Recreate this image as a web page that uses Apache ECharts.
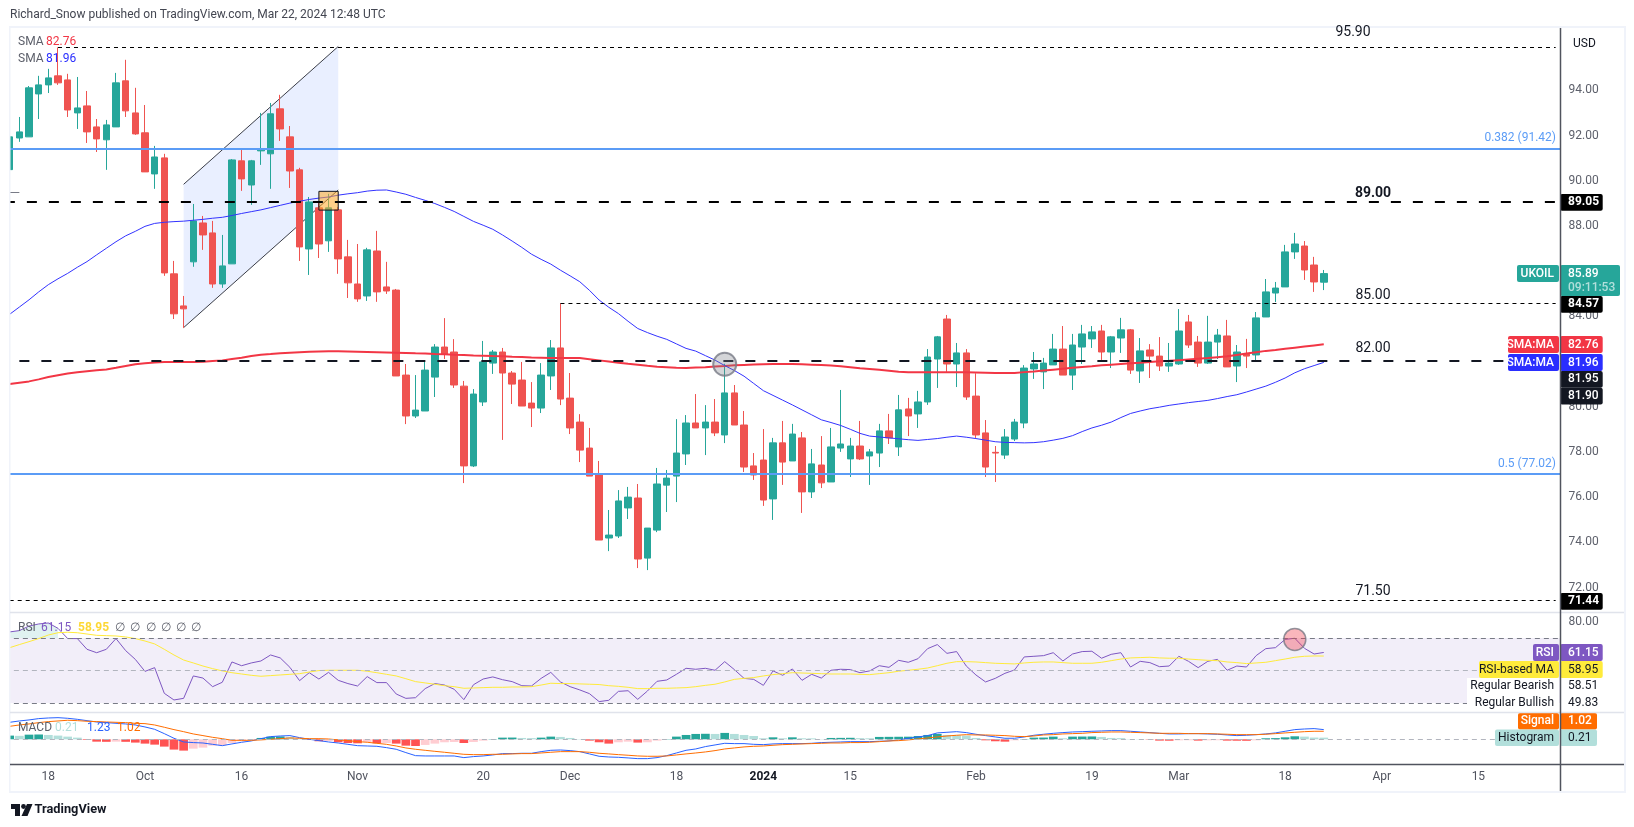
<!DOCTYPE html>
<html>
<head>
<meta charset="utf-8">
<title>UKOIL</title>
<script src="https://cdn.jsdelivr.net/npm/echarts@6/dist/echarts.min.js"></script>
<style>
html, body { margin: 0; padding: 0; background: #fff; }
#ch { width: 1634px; height: 827px; }
</style>
</head>
<body>
<div id="ch"></div>
<script>
// trading days, the last 24 are the empty space on the right of the chart
var categories = [
  'Sep 12','Sep 13','Sep 14','Sep 15','Sep 18','Sep 19','Sep 20','Sep 21','Sep 22','Sep 25','Sep 26','Sep 27','Sep 28','Sep 29',
  'Oct 2','Oct 3','Oct 4','Oct 5','Oct 6','Oct 9','Oct 10','Oct 11','Oct 12','Oct 13','Oct 16','Oct 17','Oct 18','Oct 19','Oct 20','Oct 23','Oct 24','Oct 25','Oct 26','Oct 27','Oct 30','Oct 31',
  'Nov 1','Nov 2','Nov 3','Nov 6','Nov 7','Nov 8','Nov 9','Nov 10','Nov 13','Nov 14','Nov 15','Nov 16','Nov 17','Nov 20','Nov 21','Nov 22','Nov 23','Nov 24','Nov 27','Nov 28','Nov 29','Nov 30',
  'Dec 1','Dec 4','Dec 5','Dec 6','Dec 7','Dec 8','Dec 11','Dec 12','Dec 13','Dec 14','Dec 15','Dec 18','Dec 19','Dec 20','Dec 21','Dec 22','Dec 26','Dec 27','Dec 28','Dec 29',
  'Jan 2','Jan 3','Jan 4','Jan 5','Jan 8','Jan 9','Jan 10','Jan 11','Jan 12','Jan 15','Jan 16','Jan 17','Jan 18','Jan 19','Jan 22','Jan 23','Jan 24','Jan 25','Jan 26','Jan 29','Jan 30','Jan 31',
  'Feb 1','Feb 2','Feb 5','Feb 6','Feb 7','Feb 8','Feb 9','Feb 12','Feb 13','Feb 14','Feb 15','Feb 16','Feb 19','Feb 20','Feb 21','Feb 22','Feb 23','Feb 26','Feb 27','Feb 28','Feb 29',
  'Mar 1','Mar 4','Mar 5','Mar 6','Mar 7','Mar 8','Mar 11','Mar 12','Mar 13','Mar 14','Mar 15','Mar 18','Mar 19','Mar 20','Mar 21','Mar 22',
  'Mar 25','Mar 26','Mar 27','Mar 28','Mar 29','Apr 1','Apr 2','Apr 3','Apr 4','Apr 5','Apr 8','Apr 9','Apr 10','Apr 11','Apr 12','Apr 15','Apr 16','Apr 17','Apr 18','Apr 19','Apr 22','Apr 23','Apr 24','Apr 25'
];
var timeTickDates = ['Sep 18','Oct 2','Oct 16','Nov 1','Nov 20','Dec 1','Dec 18','Jan 2','Jan 15','Feb 1','Feb 19','Mar 1','Mar 18','Apr 1','Apr 15'];
var timeTickLabels = ['18','Oct','16','Nov','20','Dec','18','2024','15','Feb','19','Mar','18','Apr','15'];
var priceTicks = [72,74,76,78,80,82,84,86,88,90,92,94];

var opens = [90.49,91.89,91.94,93.84,94.24,94.64,94.46,93.00,93.31,92.38,91.81,92.38,94.42,93.00,92.12,90.30,91.01,85.88,84.46,86.41,
  88.13,87.69,85.43,86.32,90.88,89.81,91.32,91.19,93.18,91.94,90.48,86.98,88.80,87.34,88.71,86.63,85.43,84.90,86.89,85.30,
  85.16,81.40,79.59,79.81,81.31,82.64,82.42,80.91,77.38,80.21,81.93,82.42,81.49,81.18,80.16,79.94,81.36,82.60,80.38,79.32,
  78.17,76.98,74.19,74.28,75.52,75.96,73.30,74.54,76.53,76.93,77.91,79.28,79.06,79.32,78.75,80.61,79.19,77.38,77.64,75.92,
  78.40,77.60,78.62,76.23,77.42,76.67,78.17,77.69,78.26,77.82,77.95,78.93,78.22,79.90,79.68,80.21,82.11,83.88,81.89,82.38,
  80.47,78.84,77.98,77.86,78.57,79.28,81.67,81.54,81.85,82.55,81.40,82.64,83.00,83.35,82.42,83.04,83.40,81.58,82.51,82.24,
  81.80,81.89,83.75,82.86,81.93,82.86,83.13,81.80,82.33,82.29,83.97,85.03,85.30,86.85,87.11,86.27,85.51];
var closes = [91.94,92.16,94.11,94.24,94.55,94.33,93.13,93.22,92.16,91.85,92.47,94.33,93.09,92.07,90.39,91.05,85.92,84.11,84.33,88.22,
  87.60,85.43,86.23,90.92,90.08,90.88,91.36,92.96,92.29,90.43,87.07,89.06,87.20,88.80,86.54,85.48,84.77,86.94,85.08,85.12,
  81.36,79.59,79.85,81.62,82.64,82.33,80.96,77.38,80.56,81.98,82.42,81.49,81.00,80.03,79.94,81.40,82.60,80.34,79.06,78.08,
  76.93,74.10,74.32,75.83,76.00,73.26,74.63,76.58,76.84,77.95,79.28,79.06,79.32,78.84,80.61,79.19,77.33,76.98,75.87,78.40,
  77.55,78.79,76.23,77.47,76.63,78.22,78.35,78.26,77.69,78.00,78.93,78.62,79.86,79.59,80.21,82.20,83.09,81.89,82.38,80.43,
  78.75,77.33,77.95,78.66,79.32,81.71,81.89,81.93,82.55,81.40,82.73,83.22,83.31,82.42,83.09,83.40,81.62,82.47,82.24,81.80,
  81.93,83.35,82.73,81.93,82.86,83.17,81.76,82.42,82.24,83.93,85.08,85.25,86.85,87.20,86.05,85.52,85.89];
var lows = [90.49,91.72,91.94,92.73,93.88,94.24,92.82,92.29,91.67,91.27,90.48,92.38,92.82,92.03,90.39,89.64,85.79,83.88,83.49,86.19,
  86.94,85.26,85.26,86.32,89.55,88.93,90.70,89.64,91.76,89.68,86.45,85.83,86.58,86.85,85.88,84.81,84.64,84.68,84.64,84.99,
  81.36,79.23,79.50,79.81,80.43,82.11,80.83,76.62,77.33,80.03,81.45,78.53,80.12,80.03,79.10,79.72,80.74,80.07,78.79,77.55,
  76.93,74.10,73.61,74.19,75.03,72.86,72.77,74.45,75.34,75.78,77.42,79.06,77.86,78.70,78.39,79.19,77.11,76.76,75.61,74.99,
  76.54,77.60,75.30,75.96,76.40,76.67,78.00,76.89,77.64,76.54,77.33,78.35,77.82,78.70,79.06,80.08,80.83,81.54,80.87,80.30,
  78.62,76.89,76.67,77.69,78.48,79.05,81.23,80.78,81.85,81.40,80.74,81.89,82.60,82.07,81.71,82.38,81.45,81.05,81.27,81.58,
  81.54,81.85,82.60,81.76,81.89,82.11,81.76,81.09,81.71,81.98,83.97,84.63,85.30,86.54,85.61,85.08,85.16];
var highs = [92.40,92.82,94.19,94.64,94.95,95.90,94.73,94.59,93.97,92.73,92.69,94.77,95.35,94.11,93.35,91.54,91.19,86.45,84.90,88.97,
  88.44,88.22,87.60,90.96,91.36,90.92,93.00,93.44,93.80,92.42,90.57,89.28,89.06,89.42,88.84,87.38,87.20,87.03,87.78,86.41,
  85.21,81.89,81.40,82.02,82.77,83.92,82.99,81.14,80.78,82.91,82.51,82.60,81.58,81.98,81.09,81.93,82.95,84.57,81.49,79.67,
  79.06,77.60,75.43,76.31,76.45,76.58,74.63,77.29,77.20,79.45,79.63,80.56,80.07,80.34,81.90,80.96,79.81,77.95,79.01,78.62,
  79.37,79.24,78.88,78.13,78.70,79.06,80.74,78.62,79.37,78.13,79.24,79.68,80.52,80.39,80.70,82.55,83.13,84.06,82.82,82.55,
  81.48,79.41,78.26,79.01,79.46,81.84,82.42,82.16,83.22,83.57,83.22,83.62,83.57,83.62,83.13,83.93,83.44,83.04,82.77,83.08,
  82.82,84.32,84.06,83.13,84.02,83.44,83.84,82.73,83.00,84.19,85.65,85.52,87.16,87.69,87.33,86.63,86.05];

var sma50 = [84.09,84.41,84.73,85.08,85.40,85.66,85.90,86.17,86.42,86.72,87.01,87.30,87.56,87.76,87.98,88.11,88.16,88.19,88.21,88.25,
  88.29,88.34,88.38,88.46,88.55,88.63,88.71,88.81,88.91,89.01,89.09,89.17,89.23,89.28,89.36,89.42,89.47,89.54,89.58,89.59,
  89.50,89.40,89.26,89.13,88.99,88.82,88.64,88.42,88.20,88.03,87.85,87.60,87.33,87.05,86.75,86.52,86.31,86.04,85.79,85.53,
  85.15,84.72,84.40,84.12,83.78,83.46,83.28,83.12,82.98,82.78,82.58,82.46,82.26,82.06,81.82,81.60,81.35,81.03,80.71,80.50,
  80.29,80.08,79.86,79.64,79.42,79.30,79.17,79.00,78.82,78.70,78.66,78.62,78.58,78.54,78.51,78.55,78.59,78.65,78.70,78.65,
  78.59,78.52,78.45,78.42,78.41,78.40,78.41,78.45,78.52,78.60,78.72,78.90,79.06,79.18,79.32,79.52,79.70,79.81,79.91,79.98,
  80.06,80.12,80.18,80.23,80.28,80.36,80.45,80.53,80.65,80.78,80.91,81.08,81.27,81.50,81.68,81.82,81.96];
var sma200 = [81.00,81.06,81.12,81.21,81.31,81.39,81.47,81.52,81.57,81.61,81.65,81.72,81.80,81.88,81.92,81.96,81.98,81.98,81.98,81.98,
  81.99,82.02,82.05,82.11,82.17,82.24,82.30,82.33,82.37,82.39,82.41,82.43,82.44,82.45,82.45,82.44,82.43,82.42,82.41,82.40,
  82.39,82.38,82.36,82.35,82.33,82.32,82.30,82.29,82.27,82.26,82.24,82.23,82.21,82.20,82.18,82.17,82.16,82.15,82.15,82.15,
  82.10,82.05,82.00,81.95,81.90,81.86,81.81,81.77,81.75,81.72,81.71,81.73,81.75,81.78,81.80,81.83,81.85,81.87,81.88,81.89,
  81.89,81.89,81.88,81.86,81.84,81.82,81.79,81.75,81.70,81.67,81.63,81.59,81.55,81.53,81.53,81.52,81.52,81.52,81.52,81.52,
  81.51,81.50,81.49,81.49,81.49,81.53,81.56,81.60,81.64,81.68,81.72,81.76,81.79,81.83,81.86,81.89,81.92,81.95,81.98,82.01,
  82.03,82.06,82.09,82.12,82.15,82.19,82.23,82.29,82.35,82.41,82.47,82.51,82.56,82.61,82.66,82.71,82.76];

var rsiValues = [73.8,74.6,77.4,78.7,79.3,76.0,69.7,69.7,63.1,61.0,63.1,69.7,62.3,56.9,49.5,51.8,36.0,31.9,32.9,46.7,
  45.4,40.1,42.8,55.3,53.0,54.7,55.9,59.6,57.8,52.0,43.8,48.7,44.8,48.9,44.0,42.0,40.5,46.3,42.6,42.6,
  35.6,32.9,33.3,38.9,42.0,41.1,38.5,32.1,41.3,44.8,46.1,44.4,43.2,40.7,40.5,45.2,48.9,43.0,40.1,38.1,
  35.8,30.9,31.7,37.2,37.6,32.3,37.4,43.4,44.2,47.7,51.4,50.8,51.4,50.2,55.5,50.6,45.2,44.6,40.9,49.8,
  47.1,51.0,44.0,47.7,45.4,50.2,50.8,50.6,48.7,49.8,53.0,52.0,56.3,55.1,57.3,63.5,66.0,60.6,61.7,52.8,
  47.3,43.0,45.2,48.3,50.4,58.4,58.8,59.2,61.0,55.9,60.2,61.7,61.9,57.6,60.0,61.0,52.2,55.7,54.9,52.4,
  52.8,58.8,55.7,51.8,55.7,56.9,50.2,52.8,52.2,59.2,63.5,64.1,69.2,69.9,63.7,60.2,61.15];
var rsiMa = [64.1,66.0,67.8,69.7,71.9,73.3,73.6,73.3,72.5,71.7,71.5,71.3,70.7,69.7,68.2,66.4,63.1,59.6,56.5,54.7,
  52.8,51.2,49.8,48.7,47.9,47.1,46.5,46.9,47.3,47.7,48.1,49.1,50.0,50.2,50.2,50.2,50.2,49.6,48.7,47.7,
  46.7,45.0,43.2,42.4,41.6,40.7,40.1,39.1,39.3,39.5,39.7,39.7,39.9,39.9,40.1,41.1,42.2,42.0,42.0,41.8,
  41.6,41.4,40.7,40.3,39.7,38.9,38.9,39.1,39.1,39.3,39.5,40.1,40.9,41.6,43.0,44.6,45.2,45.7,46.7,47.5,
  48.1,48.7,48.5,48.3,48.1,47.9,47.9,47.9,47.7,47.5,48.1,48.7,49.6,50.2,50.8,51.6,53.0,54.5,55.5,55.5,
  55.3,54.9,54.5,54.3,54.1,54.7,55.1,55.3,55.3,54.9,54.5,54.5,54.5,55.1,56.1,57.1,57.8,58.0,58.2,57.8,
  57.6,57.6,57.1,56.7,56.3,56.1,55.3,54.9,54.3,54.7,55.1,56.1,57.1,58.2,58.8,59.0,58.95];

var macdValues = [2.16,2.33,2.46,2.63,2.71,2.75,2.67,2.54,2.37,2.20,2.12,2.03,1.95,1.82,1.57,1.27,.72,.13,-.34,-.42,
  -.47,-.64,-.81,-.59,-.38,-.21,.08,.34,.42,.47,.21,0,-.17,-.34,-.47,-.64,-.81,-.85,-.89,-1.06,
  -1.27,-1.69,-2.08,-2.12,-2.12,-2.12,-2.12,-2.33,-2.20,-2.12,-1.99,-1.82,-1.82,-1.78,-1.78,-1.57,-1.40,-1.36,-1.44,-1.57,
  -1.86,-2.16,-2.25,-2.29,-2.37,-2.46,-2.46,-2.33,-2.08,-1.74,-1.40,-1.23,-.93,-.72,-.51,-.55,-.55,-.64,-.68,-.59,
  -.55,-.55,-.55,-.51,-.42,-.38,-.34,-.30,-.30,-.30,-.25,-.21,-.08,.13,.30,.47,.81,.89,.97,.85,
  .64,.47,.30,.13,.13,.30,.51,.64,.76,.85,.93,.97,1.02,1.06,1.10,1.10,1.02,.93,.85,.76,
  .68,.68,.72,.72,.68,.64,.55,.47,.51,.59,.68,.81,1.02,1.23,1.31,1.36,1.23];
var signalValues = [1.65,1.82,1.95,2.12,2.25,2.33,2.42,2.37,2.29,2.25,2.20,2.16,2.12,2.03,1.99,1.82,1.53,1.23,.97,.68,
  .47,.25,.08,-.13,-.13,-.13,-.08,0,.08,.17,.13,.08,.08,.04,-.08,-.17,-.30,-.38,-.51,-.64,
  -.85,-1.10,-1.27,-1.40,-1.53,-1.65,-1.78,-1.91,-1.95,-1.95,-1.91,-1.91,-1.86,-1.82,-1.82,-1.74,-1.65,-1.57,-1.57,-1.57,
  -1.65,-1.78,-1.86,-1.95,-2.03,-2.12,-2.16,-2.16,-2.12,-1.99,-1.86,-1.74,-1.61,-1.44,-1.23,-1.10,-.97,-.89,-.85,-.76,
  -.68,-.64,-.59,-.55,-.51,-.47,-.47,-.42,-.42,-.38,-.30,-.21,-.17,-.08,.04,.17,.30,.42,.51,.59,
  .55,.55,.51,.47,.38,.34,.42,.55,.59,.68,.72,.76,.85,.89,.93,.93,.89,.85,.81,.76,
  .76,.76,.72,.72,.72,.68,.64,.59,.59,.59,.64,.72,.81,.89,.97,1.02,1.02];
var histValues = [.47,.44,.59,.61,.55,.47,.34,.21,-.08,-.30,-.32,-.30,-.32,-.42,-.55,-.68,-.93,-1.31,-1.44,-1.19,
  -1.06,-.81,-.76,-.47,-.25,-.08,.17,.34,.36,.30,.08,-.08,-.25,-.21,-.38,-.47,-.51,-.34,-.51,-.47,
  -.55,-.81,-.85,-.72,-.55,-.38,-.34,-.47,-.34,-.17,.04,.21,.22,.17,.15,.21,.34,.30,.17,.04,
  -.17,-.38,-.55,-.38,-.30,-.42,-.38,-.17,.04,.34,.55,.68,.70,.68,.81,.68,.55,.42,.13,.25,
  .13,.25,.13,.12,.04,.17,.18,.19,.15,.13,.30,.31,.32,.33,.42,.55,.68,.55,.51,.47,
  .17,-.13,-.25,-.30,-.13,.04,.21,.22,.34,.13,.34,.35,.36,.30,.17,.15,.04,.03,-.04,-.17,
  -.18,-.13,-.12,-.17,-.13,-.12,-.17,-.18,-.19,-.13,.13,.15,.25,.38,.34,.22,.21];

// horizontal drawings
var thinLevels = [[5,95.90],[57,84.57],[0,71.44]];
var blueLevels = [91.42,77.02];
var resistanceLevel = 89.05;
var supportLevel = 82.03;
var stubLevel = 89.49;
var channelPoints = [[18,89.84,83.50,34,95.94,89.59]];
var orderBox = [[32,89.53,34,88.70]];
var greyCircle = [[74,81.88]];
var pinkCircle = [[133,69.2]];

var FONT = 'Roboto, "Noto Sans", sans-serif';
var chart = echarts.init(document.getElementById('ch'));

var tickNames = {};
timeTickDates.forEach(function (d, i) { tickNames[d] = timeTickLabels[i]; });

var candleData = opens.map(function (o, i) { return [o, closes[i], lows[i], highs[i]]; });
var histData = histValues.map(function (v, i) {
    var prev = i ? histValues[i - 1] : 0, color;
    if (v >= 0) color = v >= prev ? '#26a69a' : '#b2dfdb';
    else color = v <= prev ? '#ff5252' : '#ffcdd2';
    return {value: v, itemStyle: {color: color}};
});
var rsiOver = rsiValues.map(function (v) { return v >= 70 ? v : null; });

// graphic helpers for the chrome around the panes
function rect(x, y, w, h, fill, r) {
    return {type: 'rect', z: 100, silent: true, shape: {x: x, y: y, width: w, height: h, r: r || 0}, style: {fill: fill}};
}
function line(x1, y1, x2, y2, color, w) {
    return {type: 'line', z: 101, silent: true, shape: {x1: x1, y1: y1, x2: x2, y2: y2}, style: {stroke: color, lineWidth: w || 1}};
}
function text(x, y, str, color, font, align) {
    return {type: 'text', z: 102, silent: true, x: x, y: y,
        style: {text: str, fill: color, font: font || ('12px ' + FONT), textAlign: align || 'left', textVerticalAlign: 'middle'}};
}
var BOLD = 'bold 12px ' + FONT;
var MEDIUM = '500 12px ' + FONT;
var PLAIN = '12px ' + FONT;
function valueTag(y, h, w, bg, fg, str, font) {
    return [rect(1560, y, w, h, bg, 2), text(1568, y + h / 2, str, fg, font || MEDIUM)];
}
function nameTag(x, y, h, bg, fg, str, font) {
    return [rect(x, y, 1559 - x, h, bg, 2), text(1554, y + h / 2, str, fg, font || MEDIUM, 'right')];
}

var graphics = [
    rect(0, 27, 9, 766, '#fff'),
    rect(9, 26, 1.5, 767, '#f0f3fa'),
    rect(9, 26, 1616, 2, '#f0f3fa'),
    rect(1624, 26, 2, 767, '#f0f3fa'),
    rect(9, 791, 1617, 2, '#f0f3fa'),
    line(10, 612.5, 1624, 612.5, '#e0e3eb', 1.5),
    line(10, 712.5, 1624, 712.5, '#e0e3eb', 1.5),
    line(10, 764.5, 1624, 764.5, '#50535e', 1.5),
    line(1560.5, 28, 1560.5, 791, '#50535e', 1.5),
    text(10, 15, 'Richard_Snow published on TradingView.com, Mar 22, 2024 12:48 UTC', '#434651', PLAIN),
    text(1573, 44, 'USD', '#131722', PLAIN),
    // legends
    text(18, 41.5, 'SMA', '#5d606b'), text(46, 41.5, '82.76', '#f23645'),
    text(18, 59, 'SMA', '#5d606b'), text(46, 59, '81.96', '#2a2eff'),
    text(18, 627.5, 'RSI', '#5d606b'), text(41, 627.5, '61.15', '#7e57c2'), text(78, 627.5, '58.95', '#fdd835', BOLD),
    text(115, 627.5, '∅', '#5d606b'), text(130, 627.5, '∅', '#5d606b'), text(146, 627.5, '∅', '#5d606b'),
    text(161, 627.5, '∅', '#5d606b'), text(176, 627.5, '∅', '#5d606b'), text(191, 627.5, '∅', '#5d606b'),
    text(18, 727.5, 'MACD', '#5d606b'), text(55, 727.5, '0.21', '#b2dfdb'), text(87, 727.5, '1.23', '#2962ff'), text(117, 727.5, '1.02', '#ff6d00'),
    // drawing labels
    text(1353, 32.5, '95.90', '#131722', '14px ' + FONT, 'center'),
    text(1373, 193, '89.00', '#131722', 'bold 14px ' + FONT, 'center'),
    text(1373, 295, '85.00', '#131722', '14px ' + FONT, 'center'),
    text(1373, 348, '82.00', '#131722', '14px ' + FONT, 'center'),
    text(1373, 591, '71.50', '#131722', '14px ' + FONT, 'center'),
    text(1556, 138, '0.382 (91.42)', '#5b9cf6', PLAIN, 'right'),
    text(1556, 464, '0.5 (77.02)', '#5b9cf6', PLAIN, 'right'),
    // logo
    {type: 'polygon', z: 102, silent: true, shape: {points: [[11, 804], [20, 804], [20, 816], [15, 816], [15, 809], [11, 809]]}, style: {fill: '#131722'}},
    {type: 'circle', z: 102, silent: true, shape: {cx: 23.5, cy: 806.5, r: 2.4}, style: {fill: '#131722'}},
    {type: 'polygon', z: 102, silent: true, shape: {points: [[27, 804], [32.5, 804], [27.5, 816], [21.5, 816]]}, style: {fill: '#131722'}},
    text(34.5, 810, 'TradingView', '#131722', 'bold 12.8px ' + FONT)
];
graphics = graphics.concat(
    valueTag(194, 16.7, 42.7, '#000', '#fff', '89.05', BOLD),
    nameTag(1517, 265, 17, '#26a69a', '#fff', 'UKOIL'),
    [rect(1560, 265, 60, 31, '#26a69a', 2), text(1568, 274, '85.89', '#fff', MEDIUM), text(1568, 287.7, '09:11:53', '#b2dfdb', MEDIUM)],
    valueTag(296, 16.7, 42.7, '#000', '#fff', '84.57', BOLD),
    nameTag(1508, 336, 17, '#f23645', '#fff', 'SMA:MA'),
    valueTag(336, 17, 42.7, '#f23645', '#fff', '82.76'),
    nameTag(1508, 354, 17, '#2a2eff', '#fff', 'SMA:MA'),
    valueTag(354, 17, 42.7, '#2a2eff', '#fff', '81.96'),
    valueTag(371, 16.7, 42.7, '#131722', '#fff', '81.95'),
    valueTag(387.7, 16.7, 42.7, '#131722', '#fff', '81.90'),
    valueTag(593, 16.7, 42.7, '#000', '#fff', '71.44', BOLD),
    nameTag(1533, 644, 17, '#7e57c2', '#fff', 'RSI'),
    valueTag(644, 17, 42.7, '#7e57c2', '#fff', '61.15'),
    [rect(1467, 678, 92, 34, '#fff')],
    nameTag(1479, 661, 17, '#ffeb3b', '#131722', 'RSI-based MA', PLAIN),
    valueTag(661, 17, 42.7, '#ffeb3b', '#131722', '58.95', PLAIN),
    [text(1554, 686, 'Regular Bearish', '#131722', PLAIN, 'right'), text(1568, 686, '58.51', '#131722'),
     text(1554, 703, 'Regular Bullish', '#131722', PLAIN, 'right'), text(1568, 703, '49.83', '#131722')],
    nameTag(1518, 713, 16.5, '#ff6d00', '#fff', 'Signal'),
    valueTag(713, 16.5, 37, '#ff6d00', '#fff', '1.02'),
    nameTag(1495, 729.5, 16.5, '#b2dfdb', '#131722', 'Histogram', PLAIN),
    valueTag(729.5, 16.5, 37, '#b2dfdb', '#131722', '0.21', PLAIN)
);

function renderChannel(params, api) {
    var a = api.coord([api.value(0), api.value(1)]), b = api.coord([api.value(0), api.value(2)]);
    var c = api.coord([api.value(3), api.value(4)]), d = api.coord([api.value(3), api.value(5)]);
    return {type: 'group', children: [
        {type: 'polygon', shape: {points: [a, c, d, b]}, style: {fill: 'rgba(41,98,255,0.1)'}},
        {type: 'line', shape: {x1: a[0], y1: a[1], x2: c[0], y2: c[1]}, style: {stroke: '#3a3d47', lineWidth: 1}},
        {type: 'line', shape: {x1: b[0], y1: b[1], x2: d[0], y2: d[1]}, style: {stroke: '#3a3d47', lineWidth: 1}}
    ]};
}
function renderBox(params, api) {
    var a = api.coord([api.value(0), api.value(1)]), b = api.coord([api.value(2), api.value(3)]);
    return {type: 'rect', shape: {x: a[0], y: a[1], width: b[0] - a[0], height: b[1] - a[1]},
        style: {fill: 'rgba(255,167,38,0.55)', stroke: '#131722', lineWidth: 1}};
}

var levelLines = [];
thinLevels.forEach(function (l) {
    levelLines.push([{coord: [l[0], l[1]], lineStyle: {color: '#000', width: 1, type: [4, 4]}}, {coord: [160, l[1]]}]);
});
blueLevels.forEach(function (v) {
    levelLines.push({yAxis: v, lineStyle: {color: '#5b9cf6', width: 2, type: 'solid'}});
});
levelLines.push({yAxis: resistanceLevel, lineStyle: {color: '#000', width: 2, type: [10, 12]}});
levelLines.push([{coord: [1, supportLevel], lineStyle: {color: '#131722', width: 2, type: [10, 12]}}, {coord: [160, supportLevel]}]);
levelLines.push([{coord: [0, stubLevel], lineStyle: {color: '#787b86', width: 1, type: 'solid'}}, {coord: [1, stubLevel]}]);

var hiddenX = {type: 'category', data: categories, boundaryGap: true, axisLine: {show: false}, axisTick: {show: false}, axisLabel: {show: false}};
var lineBase = {type: 'line', symbol: 'none', smooth: false, silent: true};

var option = {
    animation: false,
    backgroundColor: '#fff',
    textStyle: {fontFamily: FONT},
    grid: [
        {left: 4.87, width: 1555.63, top: 28, height: 584},
        {left: 4.87, width: 1555.63, top: 612, height: 100},
        {left: 4.87, width: 1555.63, top: 712, height: 52.3}
    ],
    xAxis: [
        Object.assign({gridIndex: 0}, hiddenX),
        Object.assign({gridIndex: 1}, hiddenX),
        {
            gridIndex: 2, type: 'category', data: categories, boundaryGap: true,
            axisLine: {show: false}, axisTick: {show: false},
            axisLabel: {
                color: '#50535e', fontSize: 12, fontFamily: FONT, margin: 7, hideOverlap: false,
                interval: function (i, name) { return tickNames[name] !== undefined; },
                formatter: function (name) {
                    var t = tickNames[name];
                    return t === '2024' ? '{b|2024}' : t;
                },
                rich: {b: {fontWeight: 'bold', fontSize: 12, fontFamily: FONT, color: '#131722'}}
            }
        }
    ],
    yAxis: [
        {
            gridIndex: 0, type: 'value', position: 'right', min: 70.916, max: 96.757, scale: true,
            splitLine: {show: false}, axisLine: {show: false}, axisTick: {show: false},
            axisLabel: {customValues: priceTicks, margin: 8, color: '#5d606b', fontSize: 12, fontFamily: FONT,
                formatter: function (v) { return v.toFixed(2); }}
        },
        {
            gridIndex: 1, type: 'value', position: 'right', min: 24.5, max: 86.06, scale: true,
            splitLine: {show: false}, axisLine: {show: false}, axisTick: {show: false},
            axisLabel: {customValues: [80], margin: 8, color: '#5d606b', fontSize: 12, fontFamily: FONT,
                formatter: function (v) { return v.toFixed(2); }}
        },
        {
            gridIndex: 2, type: 'value', position: 'right', min: -3.18, max: 3.47, scale: true,
            splitLine: {show: false}, axisLine: {show: false}, axisTick: {show: false}, axisLabel: {show: false}
        }
    ],
    series: [
        {
            name: 'channel', type: 'custom', renderItem: renderChannel, data: channelPoints, z: 1, silent: true,
            encode: {x: [0, 3], y: [1, 2, 4, 5]}
        },
        Object.assign({}, lineBase, {
            name: 'levels', data: sma200, z: 1, lineStyle: {opacity: 0},
            markLine: {silent: true, symbol: 'none', label: {show: false}, animation: false, data: levelLines}
        }),
        {
            name: 'UKOIL', type: 'candlestick', data: candleData, z: 2, barWidth: 7, silent: true,
            itemStyle: {color: '#26a69a', color0: '#ef5350', borderColor: '#26a69a', borderColor0: '#ef5350', borderWidth: 1}
        },
        Object.assign({}, lineBase, {name: 'SMA 200', data: sma200, z: 3, lineStyle: {color: '#f23645', width: 2}}),
        Object.assign({}, lineBase, {name: 'SMA 50', data: sma50, z: 3, lineStyle: {color: '#3333ff', width: 1}}),
        {
            name: 'order', type: 'custom', renderItem: renderBox, data: orderBox, z: 4, silent: true,
            encode: {x: [0, 2], y: [1, 3]}
        },
        {
            name: 'marker', type: 'scatter', data: greyCircle, z: 5, symbolSize: 23, silent: true,
            itemStyle: {color: 'rgba(120,123,134,0.4)', borderColor: '#787b86', borderWidth: 2}
        },
        Object.assign({}, lineBase, {
            name: 'RSI', xAxisIndex: 1, yAxisIndex: 1, data: rsiValues, z: 3, lineStyle: {color: '#7e57c2', width: 1},
            markArea: {silent: true, itemStyle: {color: 'rgba(126,87,194,0.1)'}, data: [[{yAxis: 70}, {yAxis: 30}]]},
            markLine: {silent: true, symbol: 'none', label: {show: false}, data: [
                {yAxis: 70, lineStyle: {color: '#787b86', width: 1, type: [5, 4]}},
                {yAxis: 50, lineStyle: {color: '#b2b5be', width: 1, type: [5, 4]}},
                {yAxis: 30, lineStyle: {color: '#787b86', width: 1, type: [5, 4]}}
            ]}
        }),
        Object.assign({}, lineBase, {
            name: 'RSI over', xAxisIndex: 1, yAxisIndex: 1, data: rsiOver, z: 2, lineStyle: {opacity: 0},
            areaStyle: {origin: 70, color: 'rgba(38,166,154,0.2)'}
        }),
        Object.assign({}, lineBase, {name: 'RSI MA', xAxisIndex: 1, yAxisIndex: 1, data: rsiMa, z: 3, lineStyle: {color: '#ffeb3b', width: 1}}),
        {
            name: 'overbought', type: 'scatter', xAxisIndex: 1, yAxisIndex: 1, data: pinkCircle, z: 5, symbolSize: 22, silent: true,
            itemStyle: {color: 'rgba(242,54,69,0.45)', borderColor: '#787b86', borderWidth: 1.5}
        },
        {
            name: 'Histogram', type: 'bar', xAxisIndex: 2, yAxisIndex: 2, data: histData, barWidth: 8.7, z: 2, silent: true,
            markLine: {silent: true, symbol: 'none', label: {show: false}, data: [
                {yAxis: 0, lineStyle: {color: '#b2b5be', width: 1, type: [5, 4]}}
            ]}
        },
        Object.assign({}, lineBase, {name: 'MACD', xAxisIndex: 2, yAxisIndex: 2, data: macdValues, z: 3, lineStyle: {color: '#2962ff', width: 1}}),
        Object.assign({}, lineBase, {name: 'Signal', xAxisIndex: 2, yAxisIndex: 2, data: signalValues, z: 3, lineStyle: {color: '#ff6d00', width: 1}})
    ],
    graphic: {elements: graphics}
};
chart.setOption(option);
</script>
</body>
</html>
